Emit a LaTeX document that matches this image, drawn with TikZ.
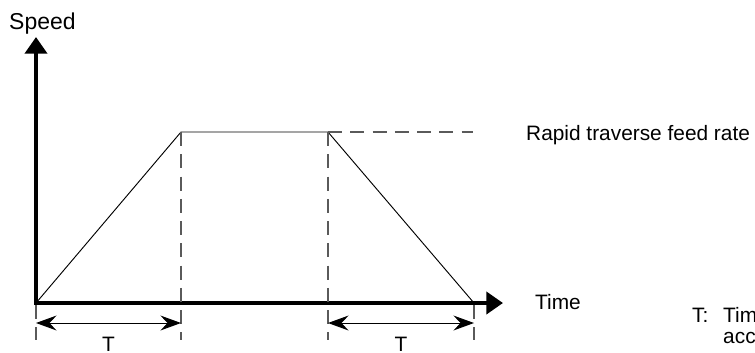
\documentclass[tikz,border=0pt]{standalone}
\usepackage{fontspec}
\setmainfont{Liberation Sans}
\usepackage{tikz}
\usetikzlibrary{arrows.meta,positioning}
\definecolor{guidegray}{RGB}{90,90,90}

\begin{document}
\begin{tikzpicture}[
        x=0.03cm, y=-0.03cm,
        axis/.style={
            line width=3.4pt, line join=miter,
            {Triangle[length=0.5cm,width=0.66cm]}-{Triangle[length=0.5cm,width=0.66cm]}
        },
        profile/.style={line width=0.8pt},
        guide/.style={line width=0.9pt, guidegray, dash pattern=on 12pt off 7pt},
        dim/.style={
            line width=0.8pt,
            {Stealth[length=0.62cm,width=0.45cm,inset=0.22cm]}-{Stealth[length=0.62cm,width=0.45cm,inset=0.22cm]}
        },
        lbl/.style={font=\fontsize{17.8}{21.5}\selectfont, inner sep=0pt}
    ]

    % Frame
    \useasboundingbox (0,0) rectangle (755,352);
    \clip (0,0) rectangle (755,352);

    % Key points
    \coordinate (o) at (36,303);
    \coordinate (ytip) at (36,37);
    \coordinate (xtip) at (503,303);
    \coordinate (acc) at (181,132);
    \coordinate (dec) at (328,132);
    \coordinate (stop) at (474,303);
    \coordinate (rateend) at (473,132);
    \coordinate (dimleft) at (36,323);
    \coordinate (dimaccr) at (181,323);
    \coordinate (dimdecl) at (328,323);
    \coordinate (dimright) at (474,323);

    % Axes
    \draw[axis] (ytip) -- (o) -- (xtip);

    % Speed profile
    \draw[profile] (o) -- (acc) -- (dec) -- (stop);

    % Guide lines
    \draw[guide] (dec) -- (rateend);
    \draw[guide] (acc) -- (acc |- 0,340);
    \draw[guide] (dec) -- (dec |- 0,340);
    \draw[guide] (36,305) -- (36,340);
    \draw[guide] (474,305) -- (474,340);

    % Acceleration / deceleration times
    \draw[dim] (dimleft) -- (dimaccr);
    \draw[dim] (dimdecl) -- (dimright);

    % Labels
    \node[lbl, font=\fontsize{19.6}{21.5}\selectfont, anchor=base west] (speed) at (9,29) {Speed};
    \node[lbl, anchor=base west] (time) at (535,309) {Time};
    \node[lbl, anchor=base west] (rate) at (526,140) {Rapid traverse feed rate};
    \node[lbl, anchor=north] (tacc) at (108.5,337) {T};
    \node[lbl, anchor=north] (tdec) at (401,337) {T};
    \node[lbl, anchor=base west] (tkey) at (692,322) {T:};
    \node[lbl, anchor=base west] (tdef1) at (723,322) {Time constant for linear};
    \node[lbl, anchor=base west] (tdef2) at (723,343) {acceleration/deceleration};

\end{tikzpicture}
\end{document}
